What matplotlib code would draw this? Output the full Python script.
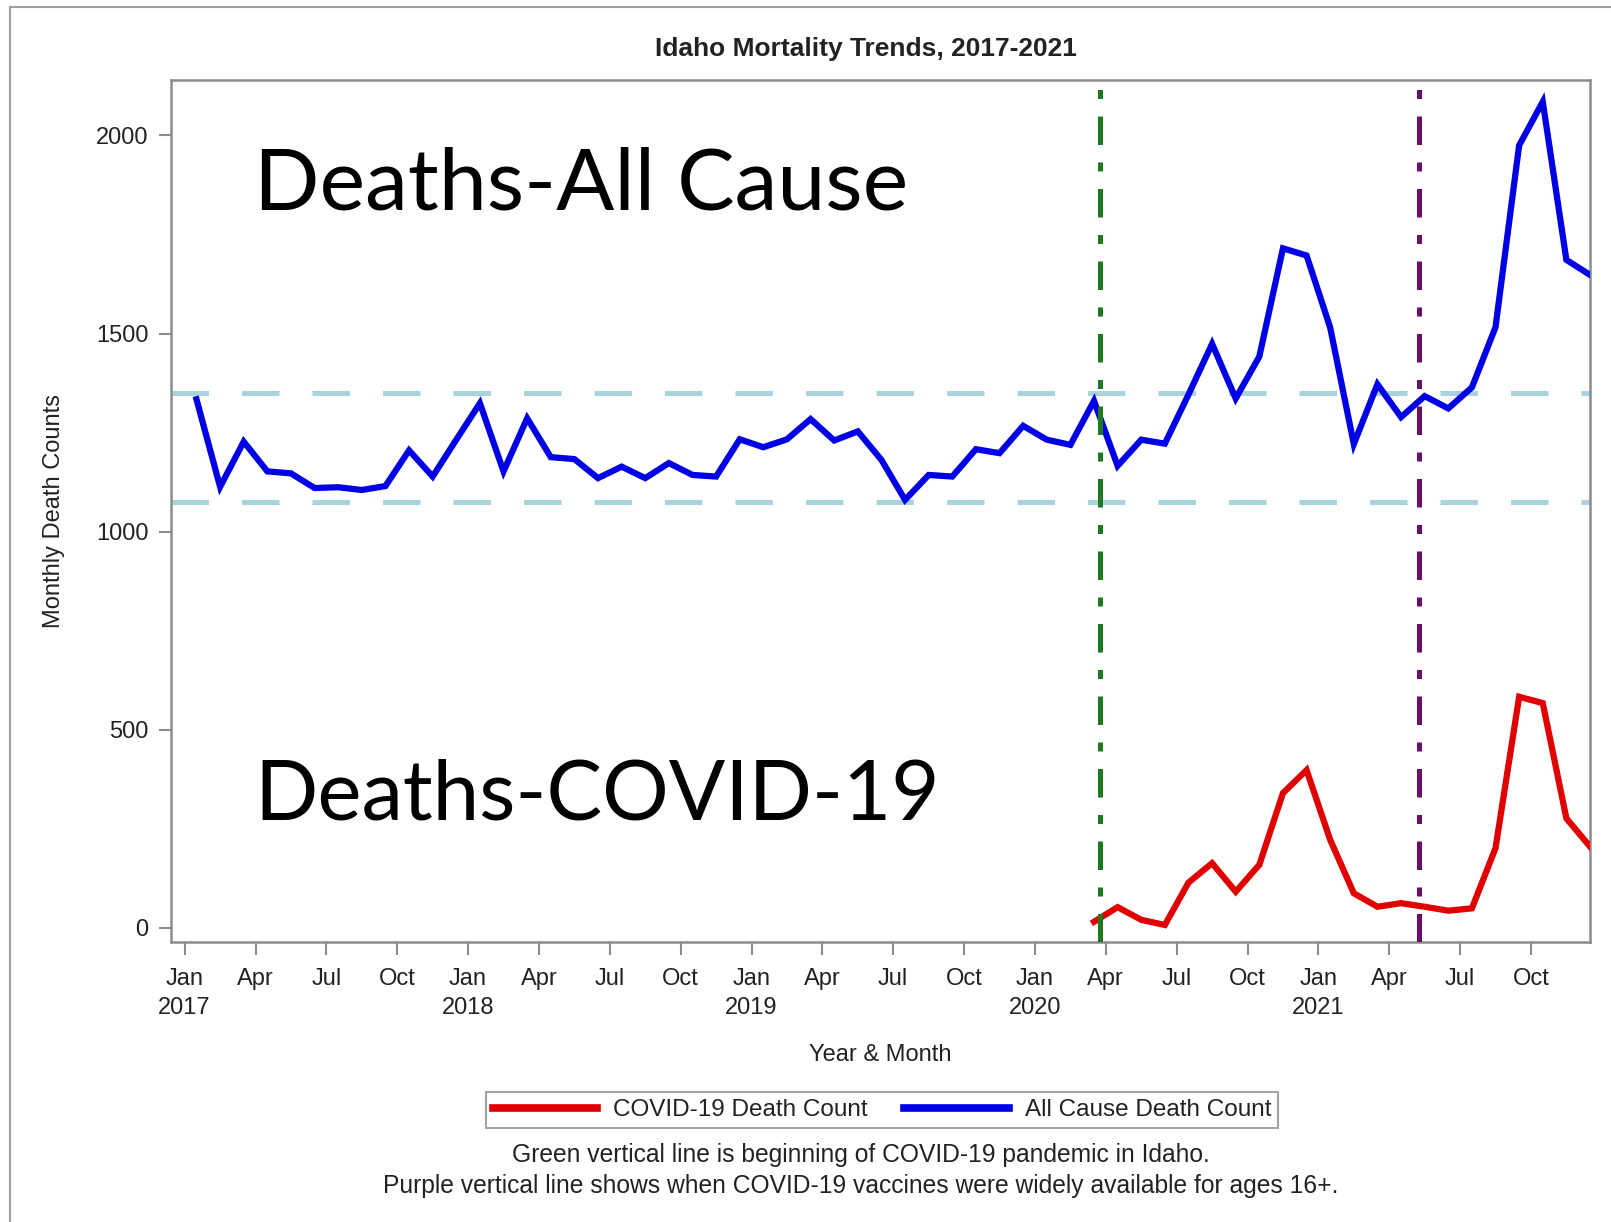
import matplotlib
matplotlib.use("Agg")
import matplotlib.pyplot as plt
import numpy as np

# Monthly counts, Jan 2017 .. Dec 2021
all_cause = [1334, 1113, 1227, 1152, 1147, 1110, 1112, 1105, 1115, 1205,
             1139, 1232, 1324, 1152, 1286, 1188, 1183, 1135, 1164, 1135,
             1173, 1143, 1139, 1233, 1213, 1233, 1284, 1230, 1253, 1181,
             1080, 1143, 1139, 1208, 1198, 1267, 1232, 1219, 1330, 1166,
             1232, 1222, 1346, 1474, 1336, 1442, 1715, 1697, 1515, 1221,
             1372, 1289, 1342, 1311, 1364, 1516, 1975, 2085, 1686, 1648]

# COVID-19 deaths, Mar 2020 .. Dec 2021
covid_start = 38
covid = [15, 52, 20, 7, 114, 163, 91, 159, 340, 398, 222,
         87, 53, 62, 53, 43, 49, 201, 583, 567, 276, 205]

band_levels = [1075, 1350]          # light blue dashed reference lines
pandemic_start = 38.75              # late March 2020
vaccine_wide = 52.25                # early May 2021

years = [2017, 2018, 2019, 2020, 2021]
month_names = ['Jan', 'Apr', 'Jul', 'Oct']

plt.rcParams['font.family'] = ['Liberation Sans', 'DejaVu Sans']
TXT = '#222222'
GRID = '#8c8c8c'

fig = plt.figure(figsize=(16.11, 12.22), dpi=100)
fig.patch.set_facecolor('white')
ax = fig.add_axes([170.5 / 1611, 1 - 942 / 1222, (1590 - 170.5) / 1611, (942 - 80) / 1222])

x_all = np.arange(len(all_cause)) + 0.5
x_cov = np.arange(len(covid)) + covid_start + 0.5

# reference band lines
for lev in band_levels:
    ax.axhline(lev, color='#a9d4df', lw=3.6, dashes=(7.5, 6.6), zorder=1)

ax.plot(x_cov, covid, color='#e00000', lw=4.5, solid_joinstyle='miter',
        label='COVID-19 Death Count', zorder=3)
ax.plot(x_all, all_cause, color='#0000e6', lw=4.5, solid_joinstyle='miter',
        label='All Cause Death Count', zorder=3)

ax.axvline(pandemic_start, color='#1f7a1f', lw=3.6, dashes=(5.7, 3.5, 1.8, 3.5), zorder=4)
ax.axvline(vaccine_wide, color='#6a0f6a', lw=3.6, dashes=(5.7, 3.5, 1.8, 3.5), zorder=4)

ax.set_xlim(-0.6, 59.5)
ax.set_ylim(-36, 2140)

ticks = np.arange(0, 60, 3)
labels = []
for t in ticks:
    name = month_names[(t % 12) // 3]
    if t % 12 == 0:
        name += '\n' + str(years[t // 12])
    labels.append(name)
ax.set_xticks(ticks)
ax.set_xticklabels(labels, linespacing=1.4)
ax.set_yticks([0, 500, 1000, 1500, 2000])

ax.tick_params(axis='both', direction='out', length=9, width=1.5, color=GRID,
               labelsize=17, labelcolor=TXT, pad=7)
ax.tick_params(axis='x', pad=10)
for sp in ax.spines.values():
    sp.set_color(GRID)
    sp.set_linewidth(1.8)

ax.set_xlabel('Year & Month', fontsize=17, color=TXT, labelpad=18)
ax.set_ylabel('Monthly Death Counts', fontsize=17, color=TXT, labelpad=22)

fig.text(866 / 1611, 1 - 49 / 1222, 'Idaho Mortality Trends, 2017-2021',
         ha='center', va='center', fontsize=19, fontweight='bold', color=TXT)

# big overlay labels
fig.text(254 / 1611, 1 - 185 / 1222, 'Deaths-All Cause', ha='left', va='center',
         fontsize=62, family=['Lato', 'DejaVu Sans'], color='black')
fig.text(254 / 1611, 1 - 796 / 1222, 'Deaths-COVID-19', ha='left', va='center',
         fontsize=60, family=['Lato', 'DejaVu Sans'], color='black')

leg = fig.legend(loc='center', bbox_to_anchor=(882 / 1611, 1 - 1110 / 1222), ncol=2,
                 fontsize=17.5, frameon=True, fancybox=False, handlelength=4.3,
                 handletextpad=0.65, columnspacing=1.5, borderpad=0.3)
leg.get_frame().set_edgecolor(GRID)
leg.get_frame().set_linewidth(1.5)
for lh in leg.get_lines():
    lh.set_linewidth(5.5)
for t in leg.get_texts():
    t.set_color(TXT)

fig.text(861 / 1611, 1 - 1155 / 1222,
         'Green vertical line is beginning of COVID-19 pandemic in Idaho.',
         ha='center', va='center', fontsize=17.7, color=TXT)
fig.text(861 / 1611, 1 - 1186 / 1222,
         'Purple vertical line shows when COVID-19 vaccines were widely available for ages 16+.',
         ha='center', va='center', fontsize=17.7, color=TXT)

# outer frame of the original graphic
fig.add_artist(plt.Line2D([10 / 1611, 1], [1 - 7 / 1222, 1 - 7 / 1222],
                          transform=fig.transFigure, color='#a0a0a0', lw=1.5))
fig.add_artist(plt.Line2D([10 / 1611, 10 / 1611], [0, 1 - 7 / 1222],
                          transform=fig.transFigure, color='#a0a0a0', lw=1.5))

fig.savefig('out.png', dpi=100)
